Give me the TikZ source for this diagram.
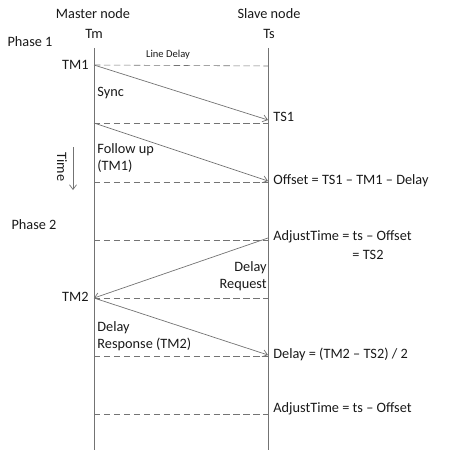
\documentclass[tikz,border=0pt]{standalone}
\usepackage{fontspec}
\setmainfont{Carlito}
\usepackage{tikz}
\usetikzlibrary{arrows.meta}

\begin{document}
\begin{tikzpicture}[
  x=0.03cm, y=-0.03cm,
  lbl/.style={font=\fontsize{12.2}{14.5}\selectfont, text=black!90, inner sep=1pt},
  small/.style={font=\fontsize{9}{10}\selectfont, text=black!90, inner sep=1pt},
  life/.style={draw=black!55, line width=0.6pt},
  mark line/.style={draw=black!55, line width=0.5pt, dash pattern=on 5.5pt off 3pt},
  msg/.style={-{Straight Barb[length=4pt,width=6pt]}, draw=black!55, line width=0.6pt}
]
\useasboundingbox (0,0) rectangle (457,450);

% headers
\node[lbl] (mhead) at (93,14) {Master node};
\node[lbl] (shead) at (269,14) {Slave node};
\node[lbl] (tm) at (94,34) {Tm};
\node[lbl] (ts) at (269,34) {Ts};
\node[lbl] (ph1) at (30,42) {Phase 1};
\node[lbl] (ph2) at (34,225) {Phase 2};

% lifelines
\coordinate (mtop) at (94,48);
\coordinate (mbot) at (94,450);
\coordinate (stop) at (268,48);
\coordinate (sbot) at (268,450);
\draw[life] (mtop) -- (mbot);
\draw[life] (stop) -- (sbot);

% events on master (m) and slave (s)
\coordinate (m1) at (94,65);   \coordinate (s1) at (268,66);
\coordinate (m2) at (94,123);  \coordinate (s2) at (268,120);
\coordinate (m3) at (94,182);  \coordinate (s3) at (268,181);
\coordinate (m4) at (94,240);  \coordinate (s4) at (268,238);
\coordinate (m5) at (94,298);  \coordinate (s5) at (268,298);
\coordinate (m6) at (94,356);  \coordinate (s6) at (268,355);
\coordinate (m7) at (94,414);  \coordinate (s7) at (268,414);

% dashed time marks
\draw[mark line] (m1) -- (s1);
\draw[mark line] (m2) -- (s2 |- m2);
\draw[mark line] (m3) -- (s3 |- m3);
\draw[mark line] (m4) -- (s4 |- m4);
\draw[mark line] (m5) -- (s5);
\draw[mark line] (m6) -- (s6 |- m6);
\draw[mark line] (m7) -- (s7);

% messages
\draw[msg] (m1) -- (s2);
\draw[msg] (m2) -- (s3);
\draw[msg] (s4) -- (m5);
\draw[msg] (m5) -- (s6);

% labels
\node[small] (ld) at (168,55) {Line Delay};
\node[lbl, anchor=east] (tm1) at (90,65) {TM1};
\node[lbl, anchor=east] (tm2) at (90,297) {TM2};
\node[lbl, anchor=west] (sync) at (96,93) {Sync};
\node[lbl, anchor=west, align=left] (fup) at (96,158) {Follow up\\(TM1)};
\node[lbl, anchor=east, align=right] (dreq) at (268,276) {Delay\\Request};
\node[lbl, anchor=west, align=left] (dresp) at (96,336) {Delay\\Response (TM2)};
\node[lbl, anchor=west] (ts1) at (272,117) {TS1};
\node[lbl, anchor=west] (off) at (272,181) {Offset = TS1 -- TM1 -- Delay};
\node[lbl, anchor=west] (adj1) at (272,237) {AdjustTime = ts -- Offset};
\node[lbl] (ts2) at (368,255) {= TS2};
\node[lbl, anchor=west] (dly) at (272,354) {Delay = (TM2 -- TS2) / 2};
\node[lbl, anchor=west] (adj2) at (272,409) {AdjustTime = ts -- Offset};

% time arrow
\node[lbl, rotate=-90] (time) at (62,167) {Time};
\coordinate (ttop) at (73,147);
\coordinate (tbot) at (73,190);
\draw[msg] (ttop) -- (tbot);
\end{tikzpicture}
\end{document}
